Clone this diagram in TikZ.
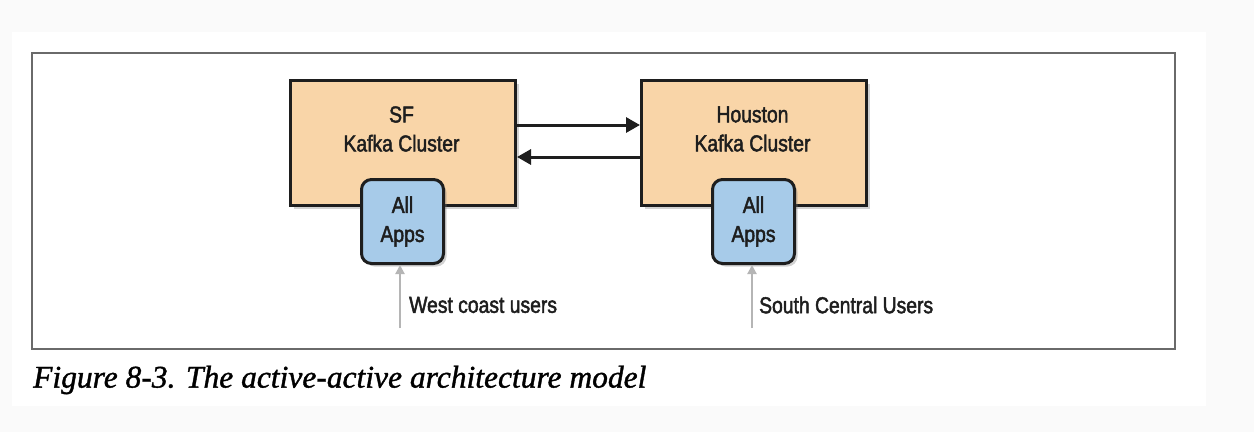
\documentclass[tikz,border=0pt]{standalone}
\usepackage{fontspec}
\setmainfont{Liberation Serif}
\newfontfamily\diafont[FakeStretch=0.84,FakeBold=2]{Liberation Sans}
\newfontfamily\capfont[FakeBold=1.2]{Liberation Serif}
\usetikzlibrary{arrows.meta,shadows}
\definecolor{pagebg}{HTML}{FAFAFA}
\definecolor{orangefill}{HTML}{F9D5A8}
\definecolor{bluefill}{HTML}{A7CBE9}
\definecolor{boxline}{HTML}{1E1E1E}
\definecolor{userline}{HTML}{B5B5B5}
\definecolor{frameline}{HTML}{6A6A6A}
\tikzset{
  cluster/.style={draw=boxline, line width=3pt, fill=orangefill, minimum width=225pt, minimum height=125pt, anchor=north west, inner sep=0pt,
    drop shadow={shadow xshift=3pt, shadow yshift=-3pt, opacity=0.35}},
  apps/.style={draw=boxline, line width=3pt, fill=bluefill, rounded corners=10pt, minimum width=82pt, minimum height=84pt, anchor=north west, inner sep=0pt,
    drop shadow={shadow xshift=3pt, shadow yshift=-3pt, opacity=0.35}},
  dtext/.style={font=\diafont\fontsize{23}{29}\selectfont, text=boxline, align=center, inner sep=0pt},
  ltext/.style={font=\diafont\fontsize{23}{29}\selectfont, text=boxline, anchor=west, inner sep=0pt},
  link/.style={line width=3pt, draw=boxline, -{Triangle[length=14pt,width=15pt]}},
  userarrow/.style={line width=2pt, draw=userline, -{Triangle[length=9pt,width=9pt]}},
}
\begin{document}
\begin{tikzpicture}[x=1pt,y=-1pt]
  \fill[pagebg] (0,0) rectangle (1254,432);
  \fill[white] (12,32) rectangle (1206,406);
  \draw[frameline, line width=2pt] (32,53) rectangle (1175,349);

  \node[cluster] (SF) at (289,79) {};
  \node[cluster] (HO) at (640,79) {};
  \node[dtext] (SFt) at (401.5,129) {SF\\Kafka Cluster};
  \node[dtext] (HOt) at (752.5,129) {Houston\\Kafka Cluster};

  \draw[link] (SF.east |- 0,125) -- (HO.west |- 0,125);
  \draw[link] (HO.west |- 0,157) -- (SF.east |- 0,157);

  \node[apps] (A1) at (360,178) {};
  \node[apps] (A2) at (711,178) {};
  \node[dtext] (A1t) at (A1.center) {All\\Apps};
  \node[dtext] (A2t) at (A2.center) {All\\Apps};

  \coordinate (U1) at (400,328);
  \coordinate (U2) at (752,328);
  \draw[userarrow] (U1) -- (A1.south -| U1);
  \draw[userarrow] (U2) -- (A2.south -| U2);
  \node[ltext] (L1) at (409,305) {West coast users};
  \node[ltext] (L2) at (759,305) {South Central Users};

  \node[anchor=west, inner sep=0pt, font=\capfont\itshape\fontsize{31.5}{36}\selectfont] (cap) at (33,380) {Figure 8-3. The active-active architecture model};
\end{tikzpicture}
\end{document}
